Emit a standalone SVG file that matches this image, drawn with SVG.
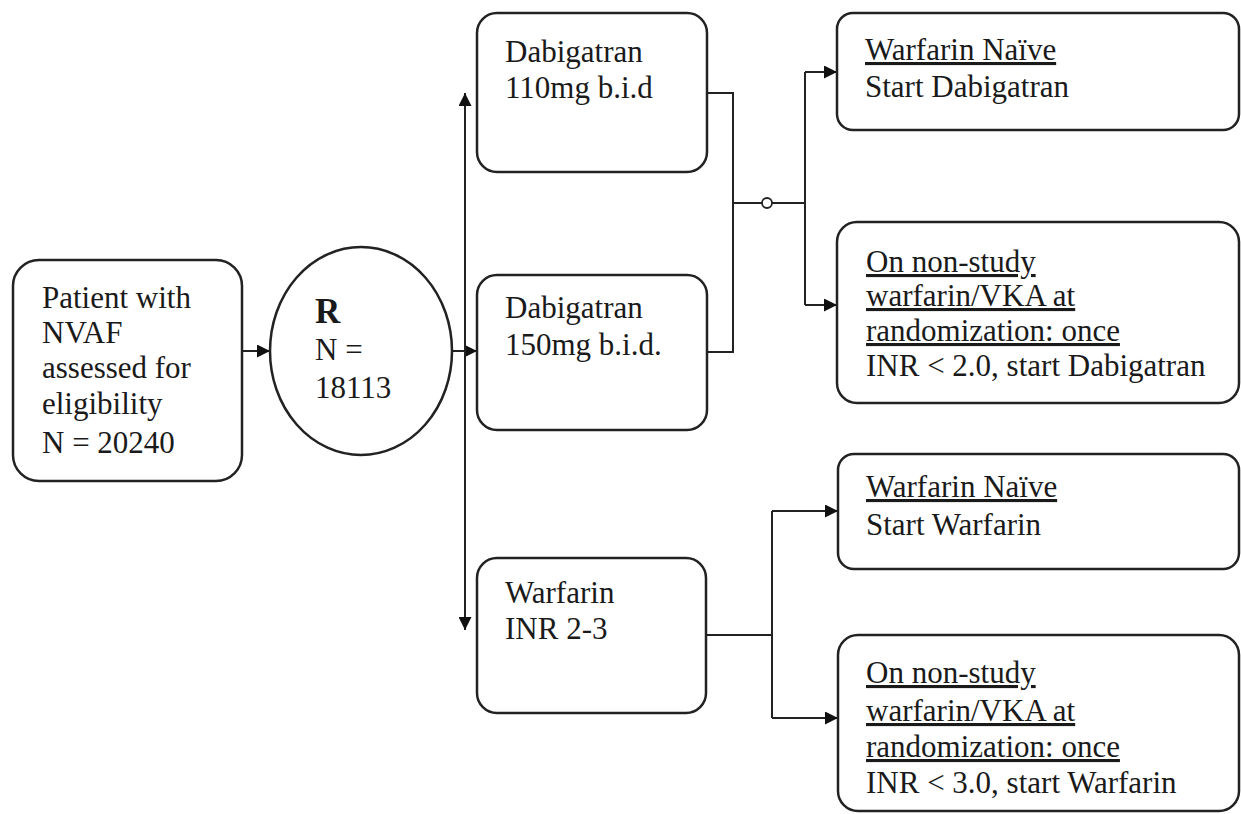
<svg xmlns="http://www.w3.org/2000/svg" width="1241" height="814" viewBox="0 0 1241 814">
<defs>
<style>
.box{fill:#fff;stroke:#222;stroke-width:2.5}
.ln{fill:none;stroke:#222;stroke-width:2}
text{font-family:"Liberation Serif","Times New Roman",serif;font-size:31px;fill:#1a1a1a}
.u{text-decoration:underline}
.b{font-weight:bold;font-size:35px}
</style>
<marker id="ah" viewBox="0 0 10 10" refX="10" refY="5" markerWidth="13" markerHeight="13" markerUnits="userSpaceOnUse" orient="auto">
<path d="M0,0 L10,5 L0,10 z" fill="#111"/>
</marker>
</defs>
<rect width="1241" height="814" fill="#fff"/>
<g id="connectors">
<path class="ln" d="M242,351 H270" marker-end="url(#ah)"/>
<path class="ln" d="M453,351 H477" marker-end="url(#ah)"/>
<path class="ln" d="M465,351 V93" marker-end="url(#ah)"/>
<path class="ln" d="M465,351 V630" marker-end="url(#ah)"/>
<path class="ln" d="M707,93 H733 V352 H707"/>
<path class="ln" d="M733,203 H762 M772,203 H805"/>
<circle cx="767" cy="203" r="5" fill="#fff" stroke="#222" stroke-width="1.8"/>
<path class="ln" d="M805,72 V305"/>
<path class="ln" d="M805,72 H837" marker-end="url(#ah)"/>
<path class="ln" d="M805,305 H837" marker-end="url(#ah)"/>
<path class="ln" d="M706,635 H772"/>
<path class="ln" d="M772,511 V718"/>
<path class="ln" d="M772,511 H838" marker-end="url(#ah)"/>
<path class="ln" d="M772,718 H838" marker-end="url(#ah)"/>
</g>
<g id="patient">
<rect class="box" x="13" y="260" width="229" height="221" rx="26"/>
<text x="42" y="308">Patient with</text>
<text x="42" y="343">NVAF</text>
<text x="42" y="378">assessed for</text>
<text x="42" y="414">eligibility</text>
<text x="42" y="453">N = 20240</text>
</g>
<g id="randomization">
<ellipse cx="361" cy="351" rx="91" ry="104" fill="#fff" stroke="#222" stroke-width="2.5"/>
<text x="315" y="323" class="b">R</text>
<text x="315" y="360">N =</text>
<text x="315" y="398">18113</text>
</g>
<g id="dab110">
<rect class="box" x="477" y="13" width="230" height="159" rx="20"/>
<text x="505" y="62">Dabigatran</text>
<text x="505" y="98">110mg b.i.d</text>
</g>
<g id="dab150">
<rect class="box" x="477" y="275" width="230" height="155" rx="20"/>
<text x="505" y="318">Dabigatran</text>
<text x="505" y="355">150mg b.i.d.</text>
</g>
<g id="warfarin">
<rect class="box" x="477" y="558" width="229" height="155" rx="20"/>
<text x="505" y="603">Warfarin</text>
<text x="505" y="639">INR 2-3</text>
</g>
<g id="naive-dab">
<rect class="box" x="837" y="13" width="402" height="117" rx="16"/>
<text x="865" y="60" class="u">Warfarin Naïve</text>
<text x="865" y="97">Start Dabigatran</text>
</g>
<g id="nonstudy-dab">
<rect class="box" x="837" y="222" width="402" height="181" rx="20"/>
<text x="866" y="272" class="u">On non-study</text>
<text x="866" y="306" class="u">warfarin/VKA at</text>
<text x="866" y="341" class="u">randomization: once</text>
<text x="866" y="376">INR &lt; 2.0, start Dabigatran</text>
</g>
<g id="naive-war">
<rect class="box" x="838" y="454" width="401" height="115" rx="16"/>
<text x="866" y="497" class="u">Warfarin Naïve</text>
<text x="866" y="535">Start Warfarin</text>
</g>
<g id="nonstudy-war">
<rect class="box" x="838" y="635" width="401" height="176" rx="20"/>
<text x="866" y="683" class="u">On non-study</text>
<text x="866" y="721" class="u">warfarin/VKA at</text>
<text x="866" y="757" class="u">randomization: once</text>
<text x="866" y="793">INR &lt; 3.0, start Warfarin</text>
</g>
</svg>
